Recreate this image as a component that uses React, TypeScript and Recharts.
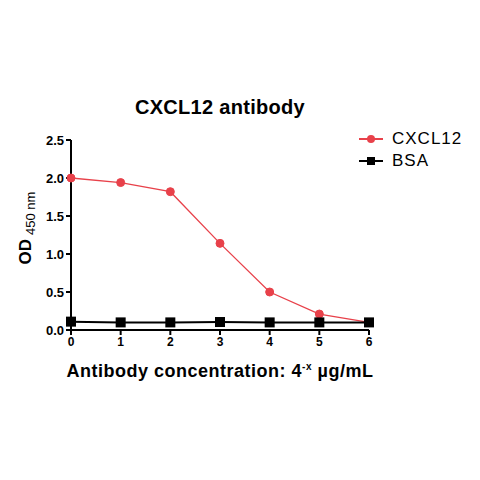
import { LineChart, Line, XAxis, YAxis } from 'recharts'

const doses = [0, 1, 2, 3, 4, 5, 6]
const cxcl12 = [2.0, 1.94, 1.82, 1.14, 0.5, 0.21, 0.1]
const bsa = [0.11, 0.1, 0.1, 0.105, 0.1, 0.1, 0.1]
const xTicks = [0, 1, 2, 3, 4, 5, 6]
const yTicks = [0, 0.5, 1.0, 1.5, 2.0, 2.5]
const seriesNames = ['CXCL12', 'BSA']

const data = doses.map((d, i) => ({ dose: d, CXCL12: cxcl12[i], BSA: bsa[i] }))

const RED = '#e8414a'
const font = '"Liberation Sans", Arial, sans-serif'

const SquareDot = (props: any) => {
  const { cx, cy } = props
  if (cx == null || cy == null) return null
  return <rect key={`sq-${cx}`} x={cx - 5} y={cy - 5} width={10} height={10} fill="#000" />
}

export default function App() {
  return (
    <div style={{ position: 'absolute', left: 0, top: 0, width: 480, height: 480, background: '#fff' }}>
      <LineChart
        width={480}
        height={480}
        data={data}
        margin={{ top: 140, right: 111, bottom: 120, left: 31 }}
      >
        <XAxis
          dataKey="dose"
          type="number"
          domain={[0, 6]}
          ticks={xTicks}
          height={30}
          axisLine={{ stroke: '#000', strokeWidth: 2 }}
          tickLine={{ stroke: '#000', strokeWidth: 2 }}
          tickSize={5}
          tick={{ fill: '#000', fontSize: 12, fontWeight: 'bold', fontFamily: font }}
        />
        <YAxis
          type="number"
          domain={[0, 2.5]}
          ticks={yTicks}
          width={40}
          axisLine={{ stroke: '#000', strokeWidth: 2 }}
          tickLine={{ stroke: '#000', strokeWidth: 2 }}
          tickSize={5}
          tickFormatter={(v: number) => v.toFixed(1)}
          tick={{ fill: '#000', fontSize: 13, fontWeight: 'bold', fontFamily: font }}
        />
        <Line
          type="linear"
          dataKey="CXCL12"
          stroke={RED}
          strokeWidth={1.3}
          dot={{ r: 4, fill: RED, stroke: RED, strokeWidth: 1 }}
          isAnimationActive={false}
        />
        <Line
          type="linear"
          dataKey="BSA"
          stroke="#000"
          strokeWidth={2}
          dot={<SquareDot />}
          isAnimationActive={false}
        />
      </LineChart>
      <div style={{ position: 'absolute', left: 359, top: 128, fontFamily: font, fontSize: 17, letterSpacing: 1, color: '#000' }}>
        {seriesNames.map((name, i) => (
          <div key={name} style={{ display: 'flex', alignItems: 'center', height: 22 }}>
            <svg width={24} height={12} style={{ marginRight: 9 }}>
              <line x1={0} y1={6} x2={24} y2={6} stroke={i === 0 ? RED : '#000'} strokeWidth={2} />
              {i === 0 ? (
                <circle cx={12} cy={6} r={4} fill={RED} />
              ) : (
                <rect x={8} y={2} width={8} height={8} fill="#000" />
              )}
            </svg>
            <span>{name}</span>
          </div>
        ))}
      </div>
      <div
        style={{
          position: 'absolute', left: 0, width: 440, top: 96, textAlign: 'center',
          fontFamily: font, fontWeight: 'bold', fontSize: 20, color: '#000',
          letterSpacing: 0.3,
        }}
      >
        CXCL12 antibody
      </div>
      <div
        style={{
          position: 'absolute', left: 0, width: 440, top: 361, textAlign: 'center',
          fontFamily: font, fontWeight: 'bold', fontSize: 18, color: '#000',
          letterSpacing: 0.5,
        }}
      >
        Antibody concentration: 4<sup style={{ fontSize: 10 }}>-x</sup> µg/mL
      </div>
      <div style={{ position: 'absolute', left: 27, top: 228, width: 0, height: 0 }}>
        <div
          style={{
            position: 'absolute', transform: 'translate(-50%, -50%) rotate(-90deg)',
            whiteSpace: 'nowrap', fontFamily: font, color: '#000',
          }}
        >
          <span style={{ fontWeight: 'bold', fontSize: 17 }}>OD</span>
          <sub style={{ fontSize: 13, marginLeft: 4 }}>450 nm</sub>
        </div>
      </div>
    </div>
  )
}
